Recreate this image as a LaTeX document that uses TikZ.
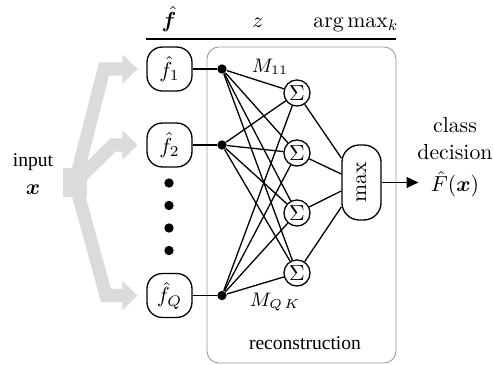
\documentclass[tikz,border=0pt]{standalone}
\usepackage{amsmath}
\usepackage{bm}
\usepackage{fontspec}
\newfontfamily\tms{Liberation Serif}
\usetikzlibrary{arrows.meta,positioning}

\begin{document}
\begin{tikzpicture}[x=0.46pt,y=0.46pt]
\tikzstyle{every node}+=[inner sep=0pt]
\tikzstyle{fbox}=[draw,semithick,rounded corners=7pt,minimum width=20.7pt,minimum height=20.2pt]
\tikzstyle{sumnode}=[draw,semithick,circle,fill=white,minimum size=12pt]
\tikzstyle{dot}=[circle,fill=black,minimum size=4.3pt]
\tikzstyle{wire}=[semithick]
\tikzstyle{fat}=[draw=black!14,line width=6pt,-{Triangle[length=7pt,width=13pt]},shorten >=4pt]
\useasboundingbox (0,0) rectangle (493,-364);
\node [draw=black!40,rounded corners=5.5pt,minimum width=86.9pt,minimum height=145.4pt] (rec) at (301.5,-205) {};
\node (recl) at (305,-343) {\tms\small reconstruction};
\node [fbox] (f1) at (169.5,-69) {$\hat{f}_1$};
\node [fbox] (f2) at (169.5,-145) {$\hat{f}_2$};
\node [fbox] (fQ) at (169.5,-295.5) {$\hat{f}_Q$};
\node [dot] (d1) at (169,-183) {};
\node [dot] (d2) at (169,-205.5) {};
\node [dot] (d3) at (169,-228) {};
\node [dot] (d4) at (169,-250.5) {};
\node [anchor=base] (hf) at (169,-27) {$\bm{\hat{f}}$};
\node [anchor=base] (hz) at (258,-27) {$z$};
\node [anchor=base] (ha) at (356,-27) {$\arg\max_k$};
\draw [line width=1.25pt] (f1.west |- 0,-39) -- (rec.east |- 0,-39);
\node [align=center] (in) at (33,-174) {\tms\small input\\[1pt]$\bm{x}$};
\node [fill=black!14,minimum width=11pt,minimum height=13.3pt] (split) at (75,-182.5) {};
\coordinate (b1) at (104,-69);
\coordinate (b2) at (113,-145);
\coordinate (bQ) at (106,-295.5);
\draw [fat] (split.center) -- (b1) -- (f1);
\draw [fat] (split.center) -- (b2) -- (f2);
\draw [fat] (split.center) -- (bQ) -- (fQ);
\node [dot] (j1) at (222,-69) {};
\node [dot] (j2) at (222,-145) {};
\node [dot] (jQ) at (222,-295.5) {};
\draw [wire] (f1) -- (j1);
\draw [wire] (f2) -- (j2);
\draw [wire] (fQ) -- (jQ);
\node [sumnode] (s1) at (297,-93) {$\Sigma$};
\node [sumnode] (s2) at (297,-153) {$\Sigma$};
\node [sumnode] (s3) at (297,-213) {$\Sigma$};
\node [sumnode] (s4) at (297,-273) {$\Sigma$};
\draw [wire] (j1) -- (s1);
\draw [wire] (j1) -- (s2);
\draw [wire] (j1) -- (s3);
\draw [wire] (j1) -- (s4);
\draw [wire] (j2) -- (s1);
\draw [wire] (j2) -- (s2);
\draw [wire] (j2) -- (s3);
\draw [wire] (j2) -- (s4);
\draw [wire] (jQ) -- (s1);
\draw [wire] (jQ) -- (s2);
\draw [wire] (jQ) -- (s3);
\draw [wire] (jQ) -- (s4);
\node (m11) at (270,-67) {\small$M_{11}$};
\node (mqk) at (275,-302) {\small$M_{Q\,K}$};
\node [draw,semithick,fill=white,rounded corners=8pt,minimum width=18pt,minimum height=34.5pt] (max) at (361.5,-182.5) {\rotatebox{90}{$\max$}};
\draw [wire] (s1) -- ([yshift=11.3pt]max.west);
\draw [wire] (s2) -- ([yshift=3.9pt]max.west);
\draw [wire] (s3) -- ([yshift=-3.9pt]max.west);
\draw [wire] (s4) -- ([yshift=-11.3pt]max.west);
\node (Fx) at (455,-184) {$\hat{F}(\bm{x})$};
\node [align=center,above=5pt of Fx] (cls) {class\\decision};
\draw [wire,-{Triangle[length=5.5pt,width=5pt]},shorten >=5.5pt] (max.east) -- (max.east -| Fx.west);
\end{tikzpicture}
\end{document}
